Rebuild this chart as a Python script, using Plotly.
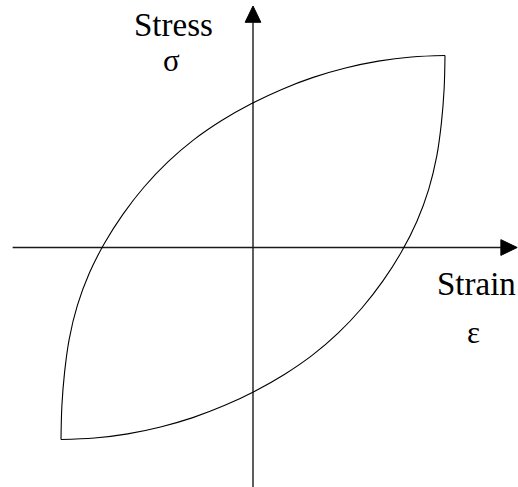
import plotly.graph_objects as go

# Hysteresis loop (normalized strain / stress)
# loading (upper) branch: from (-1,-1) up to (1,1)
loading_strain = [-1.0, -0.9954, -0.9814, -0.9570, -0.9151, -0.8534, -0.7728, -0.6768, -0.5673,
                  -0.4446, -0.3094, -0.1632, -0.0095, 0.1497, 0.3136, 0.4816, 0.6525, 0.8257, 1.0]
loading_stress = [-1.0, -0.8254, -0.6506, -0.4756, -0.3030, -0.1357, 0.0235, 0.1741, 0.3151,
                  0.4446, 0.5604, 0.6612, 0.7485, 0.8235, 0.8860, 0.9348, 0.9706, 0.9924, 1.0]
# unloading (lower) branch: from (1,1) down to (-1,-1)
unloading_strain = [1.0, 0.9954, 0.9814, 0.9570, 0.9151, 0.8534, 0.7728, 0.6768, 0.5673,
                    0.4446, 0.3094, 0.1632, 0.0095, -0.1497, -0.3136, -0.4816, -0.6525, -0.8257, -1.0]
unloading_stress = [1.0, 0.8254, 0.6506, 0.4756, 0.3030, 0.1357, -0.0235, -0.1741, -0.3151,
                    -0.4446, -0.5604, -0.6612, -0.7485, -0.8235, -0.8860, -0.9348, -0.9706, -0.9924, -1.0]

# axis extents (normalized units)
x_axis_min, x_axis_max = -1.252, 1.376
y_axis_min, y_axis_max = -1.30, 1.258
arrow_len, arrow_half = 0.085, 0.041

x_range = [-1.3177, 1.3802]
y_range = [-1.2474, 1.2891]

FONT = "Liberation Serif, Times New Roman, serif"

fig = go.Figure()

# axes lines
fig.add_trace(go.Scatter(x=[x_axis_min, x_axis_max - arrow_len], y=[0, 0], mode="lines",
                         line=dict(color="#1a1a1a", width=1.4), hoverinfo="skip"))
fig.add_trace(go.Scatter(x=[0, 0], y=[y_axis_min, y_axis_max - arrow_len], mode="lines",
                         line=dict(color="#1a1a1a", width=1.4), hoverinfo="skip"))
# arrow heads
fig.add_trace(go.Scatter(x=[x_axis_max, x_axis_max - arrow_len, x_axis_max - arrow_len, x_axis_max],
                         y=[0, arrow_half, -arrow_half, 0], mode="lines", fill="toself",
                         fillcolor="black", line=dict(color="black", width=1), hoverinfo="skip"))
fig.add_trace(go.Scatter(x=[0, arrow_half, -arrow_half, 0],
                         y=[y_axis_max, y_axis_max - arrow_len, y_axis_max - arrow_len, y_axis_max],
                         mode="lines", fill="toself",
                         fillcolor="black", line=dict(color="black", width=1), hoverinfo="skip"))

# loop branches
fig.add_trace(go.Scatter(x=loading_strain, y=loading_stress, mode="lines",
                         line=dict(color="black", width=1.1, shape="spline", smoothing=1.0)))
fig.add_trace(go.Scatter(x=unloading_strain, y=unloading_stress, mode="lines",
                         line=dict(color="black", width=1.1, shape="spline", smoothing=1.0)))

labels = [("Stress", -0.412, 1.16, 33), ("σ", -0.422, 0.975, 31),
          ("Strain", 1.166, -0.19, 33), ("ε", 1.146, -0.445, 31)]
for txt, x, y, fs in labels:
    fig.add_annotation(x=x, y=y, text=txt, showarrow=False, xref="x", yref="y",
                       xanchor="center", yanchor="middle",
                       font=dict(family=FONT, size=fs, color="black"))

fig.update_layout(width=518, height=487, margin=dict(l=0, r=0, t=0, b=0),
                  paper_bgcolor="white", plot_bgcolor="white", showlegend=False,
                  font=dict(family=FONT))
fig.update_xaxes(range=x_range, visible=False, fixedrange=True)
fig.update_yaxes(range=y_range, visible=False, fixedrange=True)

fig.write_html("out.html", config={"displayModeBar": False},
               post_script="document.body.style.margin='0';document.body.style.padding='0';")
